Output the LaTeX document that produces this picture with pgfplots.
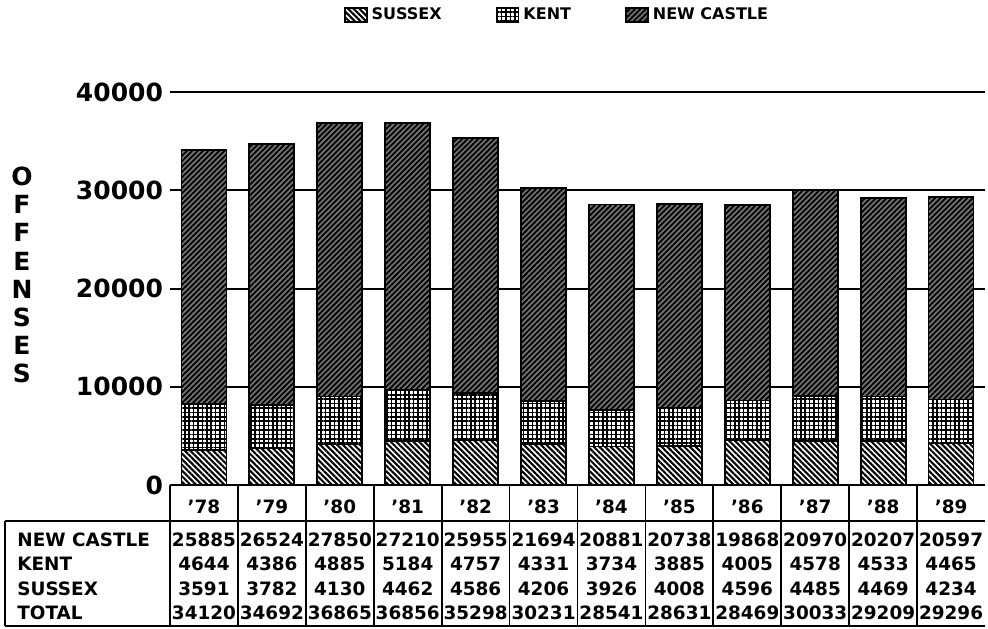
\documentclass[border=0pt]{standalone}
\usepackage{fontspec}
\setmainfont{DejaVu Sans}
\usepackage{pgfplots}
\usepackage{pgfplotstable}
\pgfplotsset{compat=1.18}
\usetikzlibrary{patterns.meta}

% offenses by county, 1978-1989
\pgfplotstableread{
x year sussex kent newcastle total
0 78 3591 4644 25885 34120
1 79 3782 4386 26524 34692
2 80 4130 4885 27850 36865
3 81 4462 5184 27210 36856
4 82 4586 4757 25955 35298
5 83 4206 4331 21694 30231
6 84 3926 3734 20881 28541
7 85 4008 3885 20738 28631
8 86 4596 4005 19868 28469
9 87 4485 4578 20970 30033
10 88 4469 4533 20207 29209
11 89 4234 4465 20597 29296
}\offenses

\newcommand\tabfont{\fontsize{9.2}{10}\selectfont\bfseries}
\tikzset{
  tabline/.style={black, line width=0.9pt},
  tab/.style={anchor=base, font=\tabfont, inner sep=0pt},
}

\begin{document}
\begin{tikzpicture}
\begin{axis}[
  scale only axis, width=407.5pt, height=196.5pt,
  ybar stacked, bar width=22.5pt,
  xmin=-0.5, xmax=11.5, ymin=0, ymax=40000,
  clip=false,
  axis line style={draw=none}, major tick length=0pt,
  xtick={0,...,11},
  xticklabels={'78,'79,'80,'81,'82,'83,'84,'85,'86,'87,'88,'89},
  xticklabel style={font=\tabfont, anchor=base, yshift=-14pt},
  ytick={0,10000,20000,30000,40000},
  yticklabels={0,10000,20000,30000,40000},
  scaled y ticks=false,
  yticklabel style={font=\fontsize{12.5}{14}\selectfont\bfseries},
  ymajorgrids, grid style={black, line width=1pt},
  every axis y label/.style={at={(rel axis cs:0,0.534)}, xshift=-74pt, anchor=center, align=center,
    font=\fontsize{12.5}{14.1}\selectfont\bfseries},
  ylabel={O\\F\\F\\E\\N\\S\\E\\S},
  legend columns=3,
  legend style={draw=none, fill=none, at={(0.476,1.196)}, anchor=center,
    font=\fontsize{8}{9}\selectfont\bfseries,
    /tikz/every even column/.append style={column sep=25pt}},
  legimg/.style={legend image code/.code={\draw[##1] (0pt,-3.5pt) rectangle (11pt,3.5pt);}},
]
\addplot[draw=black, line width=0.9pt, pattern={Lines[angle=-45,distance=2pt,line width=1.05pt]}, legimg]
  table[x=x, y=sussex] {\offenses};
\addlegendentry{SUSSEX}
\addplot[draw=black, line width=0.9pt, pattern={Hatch[angle=0,distance=2.2pt,line width=0.85pt]}, legimg]
  table[x=x, y=kent] {\offenses};
\addlegendentry{KENT}
\addplot[draw=black, line width=0.9pt, fill=black!55, postaction={pattern={Lines[angle=45,distance=1.9pt,line width=0.9pt]}}, legimg]
  table[x=x, y=newcastle] {\offenses};
\addlegendentry{NEW CASTLE}

% data table under the chart
\draw[tabline] (axis cs:-0.5,0) -- (axis cs:11.5,0);
\draw[tabline] ([yshift=-18pt]axis cs:-2.93,0) -- ([yshift=-18pt]axis cs:11.5,0);
\draw[tabline] ([yshift=-70.5pt]axis cs:-2.93,0) -- ([yshift=-70.5pt]axis cs:11.5,0);
\draw[tabline] ([yshift=-18pt]axis cs:-2.93,0) -- ([yshift=-70.5pt]axis cs:-2.93,0);
\pgfplotsinvokeforeach{-0.5,0.5,1.5,2.5,3.5,4.5,5.5,6.5,7.5,8.5,9.5,10.5}{
  \draw[tabline] (axis cs:#1,0) -- ([yshift=-70.5pt]axis cs:#1,0);
}
\node[tab, anchor=base west] at ([xshift=6pt,yshift=-30.5pt]axis cs:-2.93,0) {NEW CASTLE};
\node[tab, anchor=base west] at ([xshift=6pt,yshift=-42.5pt]axis cs:-2.93,0) {KENT};
\node[tab, anchor=base west] at ([xshift=6pt,yshift=-55pt]axis cs:-2.93,0) {SUSSEX};
\node[tab, anchor=base west] at ([xshift=6pt,yshift=-67pt]axis cs:-2.93,0) {TOTAL};
\pgfplotsinvokeforeach{0,...,11}{
  \pgfplotstablegetelem{#1}{newcastle}\of\offenses \let\vnc\pgfplotsretval
  \pgfplotstablegetelem{#1}{kent}\of\offenses \let\vkt\pgfplotsretval
  \pgfplotstablegetelem{#1}{sussex}\of\offenses \let\vsx\pgfplotsretval
  \pgfplotstablegetelem{#1}{total}\of\offenses \let\vtot\pgfplotsretval
  \edef\tmp{%
    \noexpand\node[tab] at ([yshift=-30.5pt]axis cs:#1,0) {\vnc};
    \noexpand\node[tab] at ([yshift=-42.5pt]axis cs:#1,0) {\vkt};
    \noexpand\node[tab] at ([yshift=-55pt]axis cs:#1,0) {\vsx};
    \noexpand\node[tab] at ([yshift=-67pt]axis cs:#1,0) {\vtot};
  }\tmp
}
\end{axis}
\pgfresetboundingbox
\path (-85pt,-71.5pt) rectangle (409pt,242.5pt);
\end{tikzpicture}
\end{document}
